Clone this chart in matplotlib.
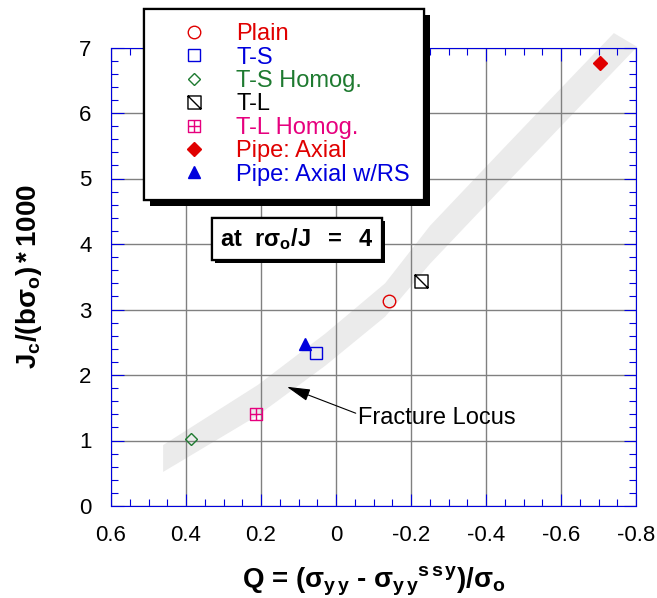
import numpy as np
import matplotlib
matplotlib.use('Agg')
import matplotlib.pyplot as plt
from matplotlib.path import Path
from matplotlib.ticker import MultipleLocator, FuncFormatter
import matplotlib.patheffects as pe

plt.rcParams['font.family'] = ['Liberation Sans', 'DejaVu Sans']
plt.rcParams['mathtext.fontset'] = 'custom'
plt.rcParams['mathtext.rm'] = 'Liberation Sans'
plt.rcParams['mathtext.bf'] = 'Liberation Sans:bold'
plt.rcParams['mathtext.it'] = 'Liberation Sans:italic'
plt.rcParams['axes.unicode_minus'] = False

# data (Q, Jc/(b*sigma_o)*1000)
plain_q, plain_j = [-0.14], [3.13]
ts_q, ts_j = [0.053], [2.33]
tsh_q, tsh_j = [0.387], [1.03]
tl_q, tl_j = [-0.226], [3.43]
tlh_q, tlh_j = [0.213], [1.41]
pipe_q, pipe_j = [-0.704], [6.77]
pipers_q, pipers_j = [0.083], [2.47]

# fracture locus band, upper and lower edge
band_up_q = [0.461, 0.208, 0.029, -0.131, -0.251, -0.44, -0.637, -0.741]
band_up_j = [0.93, 1.85, 2.63, 3.40, 4.28, 5.42, 6.60, 7.22]
band_lo_q = [0.461, 0.208, 0.029, -0.131, -0.251, -0.44, -0.637, -0.803]
band_lo_j = [0.52, 1.385, 2.14, 2.89, 3.70, 4.84, 6.02, 7.01]

RED = '#e00000'
BLUE = '#0000dd'
GREEN = '#1e7a30'
PINK = '#e6007e'

# custom markers
M, L, C = Path.MOVETO, Path.LINETO, Path.CLOSEPOLY
tl_marker = Path([(-1, -1), (1, -1), (1, 1), (-1, 1), (-1, -1), (-1, 1), (1, -1)],
                 [M, L, L, L, C, M, L])
tlh_marker = Path([(-1, -1), (1, -1), (1, 1), (-1, 1), (-1, -1), (0, -1), (0, 1), (-1, 0), (1, 0)],
                  [M, L, L, L, C, M, L, M, L])

fig = plt.figure(figsize=(6.57, 5.98), dpi=100)
ax = fig.add_axes([111/657, 92/598, 525/657, 458.5/598])

ax.fill(np.r_[band_up_q, band_lo_q[::-1]], np.r_[band_up_j, band_lo_j[::-1]],
        color='#ebebeb', lw=0, clip_on=False, zorder=0.2)

kw = dict(ls='none', mew=1.0, zorder=3)
ax.plot(plain_q, plain_j, marker='o', ms=9, mfc='none', mec=RED, label='Plain', **kw)
ax.plot(ts_q, ts_j, marker='s', ms=8.8, mfc='none', mec=BLUE, label='T-S', **kw)
ax.plot(tsh_q, tsh_j, marker='D', ms=6.2, mfc='none', mec=GREEN, label='T-S Homog.', **kw)
ax.plot(tl_q, tl_j, marker=tl_marker, ms=9.4, mfc='none', mec='black', label='T-L', **kw)
ax.plot(tlh_q, tlh_j, marker=tlh_marker, ms=9.1, mfc='none', mec=PINK, label='T-L Homog.', **kw)
ax.plot(pipe_q, pipe_j, marker='D', ms=6.8, mfc=RED, mec=RED, label='Pipe: Axial', **kw)
ax.plot(pipers_q, pipers_j, marker='^', ms=9, mfc=BLUE, mec=BLUE, label='Pipe: Axial w/RS', **kw)

ax.set_xlim(0.6, -0.8)
ax.set_ylim(0, 7)
ax.xaxis.set_major_locator(MultipleLocator(0.2))
ax.xaxis.set_minor_locator(MultipleLocator(0.05))
ax.yaxis.set_major_locator(MultipleLocator(1))
ax.yaxis.set_minor_locator(MultipleLocator(0.2))
ax.xaxis.set_major_formatter(FuncFormatter(lambda v, p: '%g' % (round(v, 2) + 0.0)))
ax.grid(True, which='major', color='#808080', lw=1.0)
ax.set_axisbelow(True)
for s in ax.spines.values():
    s.set_color(BLUE)
    s.set_linewidth(0.8)
ax.tick_params(which='both', direction='in', top=True, right=True,
               color=BLUE, labelcolor='black', width=0.8, labelsize=16)
ax.tick_params(which='major', length=9, pad=14)
ax.tick_params(which='minor', length=5)

ax.set_xlabel(r'Q = (σ$_\mathbf{y\,y}$ - σ$_\mathbf{y\,y}{}^\mathbf{s\,s\,y}$)/σ$_\mathbf{o}$',
              fontsize=20, fontweight='bold', labelpad=13)
ax.set_ylabel(r'$\mathbf{J_c/(bσ_o)*1000}$', fontsize=20, labelpad=25)

leg = ax.legend(loc='upper left', bbox_to_anchor=(144/657, 1 - 9/598),
                bbox_transform=fig.transFigure, borderaxespad=0, fontsize=17,
                handlelength=3.0, handletextpad=0.3, labelspacing=0.06,
                borderpad=0.6, fancybox=False, framealpha=1, numpoints=1)
leg.get_frame().set_edgecolor('black')
leg.get_frame().set_linewidth(1.6)
leg.get_frame().set_path_effects([pe.withSimplePatchShadow(offset=(4.3, -4.3), shadow_rgbFace='black', alpha=1), pe.Normal()])
for t, c in zip(leg.get_texts(), [RED, BLUE, GREEN, 'black', PINK, RED, BLUE]):
    t.set_color(c)

t = ax.text(0.104, 4.08, r'$\mathbf{at\ \ rσ_o/J\ \ =\ \ 4}$', fontsize=17, ha='center', va='center', zorder=6,
            bbox=dict(boxstyle='square,pad=0.35', fc='white', ec='black', lw=1.6))
t.get_bbox_patch().set_path_effects([pe.withSimplePatchShadow(offset=(2.2, -2.2), shadow_rgbFace='black', alpha=1), pe.Normal()])

ax.annotate('Fracture Locus', xy=(0.131, 1.82), xytext=(-0.06, 1.35), fontsize=17,
            ha='left', va='center',
            arrowprops=dict(arrowstyle='-|>,head_length=0.85,head_width=0.22', color='black',
                            lw=0.8, shrinkA=0, shrinkB=0, relpos=(0, 0.65)))

fig.savefig('out.png', dpi=100)
